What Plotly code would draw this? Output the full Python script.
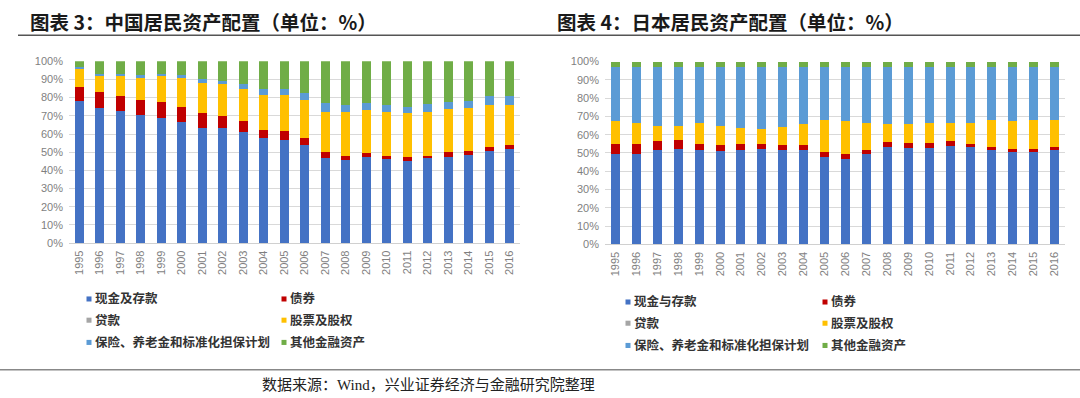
import plotly.graph_objects as go

W, H = 1080, 398

years = ["1995", "1996", "1997", "1998", "1999", "2000", "2001", "2002", "2003", "2004", "2005",
         "2006", "2007", "2008", "2009", "2010", "2011", "2012", "2013", "2014", "2015", "2016"]

# China household asset allocation (%)
cn_names = ["现金及存款", "债券", "贷款", "股票及股权", "保险、养老金和标准化担保计划", "其他金融资产"]
cn_cash = [78.0, 74.5, 72.8, 70.2, 69.0, 66.7, 63.5, 63.3, 61.1, 57.8, 56.9,
           54.0, 47.0, 45.7, 47.2, 46.1, 45.4, 46.7, 47.6, 48.5, 50.9, 51.9]
cn_bond = [8.0, 8.5, 8.3, 8.5, 8.7, 8.3, 7.8, 6.7, 6.3, 4.6, 4.6,
           3.7, 3.0, 2.4, 2.2, 2.0, 1.8, 1.4, 2.4, 1.9, 2.2, 2.2]
cn_loan = [0, 0, 0, 0, 0, 0, 0, 0, 0, 0, 0, 0, 0, 0, 0, 0, 0, 0, 0, 0, 0, 0]
cn_stock = [10.0, 8.7, 10.9, 12.0, 14.0, 15.7, 17.0, 17.6, 17.2, 19.1, 20.0,
            21.0, 22.2, 24.1, 23.7, 24.1, 24.1, 24.1, 23.5, 23.7, 22.8, 21.8]
cn_ins = [0.8, 1.1, 1.1, 1.5, 1.1, 1.5, 1.9, 1.8, 2.8, 3.1, 3.1,
          3.7, 4.7, 3.7, 3.8, 3.7, 3.7, 4.3, 4.3, 4.2, 5.2, 5.0]
cn_other = [3.2, 7.2, 6.9, 7.8, 7.2, 7.8, 9.8, 10.6, 12.6, 15.4, 15.4,
            17.6, 23.1, 24.1, 23.1, 24.1, 25.0, 23.5, 22.2, 21.7, 18.9, 19.1]

# Japan household asset allocation (%)
jp_names = ["现金与存款", "债券", "贷款", "股票及股权", "保险、养老金和标准化担保计划", "其他金融资产"]
jp_cash = [49.5, 49.5, 51.4, 52.3, 51.4, 51.0, 51.7, 52.3, 51.4, 51.4, 47.7,
           46.8, 49.2, 53.2, 52.8, 52.8, 53.8, 53.2, 51.4, 50.8, 50.8, 51.7]
jp_bond = [5.5, 5.2, 5.1, 4.6, 3.3, 3.5, 3.3, 2.7, 2.7, 2.7, 2.8,
           2.7, 2.7, 2.8, 2.8, 2.8, 2.5, 1.8, 1.8, 1.5, 1.5, 1.5]
jp_loan = [0, 0, 0, 0, 0, 0, 0, 0, 0, 0, 0, 0, 0, 0, 0, 0, 0, 0, 0, 0, 0, 0]
jp_stock = [12.3, 11.7, 8.1, 7.7, 11.7, 10.1, 8.9, 8.3, 10.1, 12.0, 17.4,
            18.0, 14.5, 9.7, 10.1, 10.8, 10.1, 11.4, 14.7, 15.2, 15.6, 14.7]
jp_ins = [29.6, 30.5, 32.3, 32.3, 30.5, 32.5, 33.0, 33.6, 32.7, 30.8, 29.0,
          29.4, 30.5, 31.2, 31.2, 30.5, 30.5, 30.5, 29.0, 29.4, 29.0, 29.0]
jp_other = [3.1, 3.1, 3.1, 3.1, 3.1, 2.9, 3.1, 3.1, 3.1, 3.1, 3.1,
            3.1, 3.1, 3.1, 3.1, 3.1, 3.1, 3.1, 3.1, 3.1, 3.1, 3.1]

colors = ["#4472C4", "#C00000", "#A5A5A5", "#FFC000", "#5B9BD5", "#70AD47"]

title_left = "图表 3：中国居民资产配置（单位：%）"
title_right = "图表 4：日本居民资产配置（单位：%）"
source_text = "数据来源：Wind，兴业证券经济与金融研究院整理"

y_ticks = [0, 10, 20, 30, 40, 50, 60, 70, 80, 90, 100]
y_tick_labels = ["0%", "10%", "20%", "30%", "40%", "50%", "60%", "70%", "80%", "90%", "100%"]


def px(x):
    return x / W


def py(y_img):
    # the captured picture maps page y to roughly 7 + 0.96*y; invert that
    y = (y_img - 7) / 0.96
    return 1 - y / H


fig = go.Figure()

cn_series = [cn_cash, cn_bond, cn_loan, cn_stock, cn_ins, cn_other]
jp_series = [jp_cash, jp_bond, jp_loan, jp_stock, jp_ins, jp_other]

for name, vals, col in zip(cn_names, cn_series, colors):
    fig.add_trace(go.Bar(x=years, y=vals, name=name, marker=dict(color=col, line=dict(width=0)),
                         xaxis="x", yaxis="y", showlegend=False))
for name, vals, col in zip(jp_names, jp_series, colors):
    fig.add_trace(go.Bar(x=years, y=vals, name=name, marker=dict(color=col, line=dict(width=0)),
                         xaxis="x2", yaxis="y2", showlegend=False))

tickfont = dict(family="Liberation Sans, Arial, sans-serif", size=11, color="#7F7F7F")

xcommon = dict(type="category", tickangle=-90, tickfont=tickfont, showgrid=False,
               showline=True, linecolor="#D0D0D0", linewidth=1, ticks="", ticklabelstandoff=2)
ycommon = dict(range=[0, 100], tickmode="array", tickvals=y_ticks, ticktext=y_tick_labels,
               tickfont=tickfont,
               showgrid=True, gridcolor="#D9D9D9", gridwidth=1, zeroline=False,
               showline=False, ticks="", ticklabelstandoff=5)

fig.update_layout(
    width=W, height=H,
    margin=dict(l=0, r=0, t=0, b=0),
    paper_bgcolor="white", plot_bgcolor="white",
    barmode="stack", bargap=0.57,
    showlegend=False,
    xaxis=dict(domain=[px(69), px(520)], anchor="y", **xcommon),
    yaxis=dict(domain=[py(241.7), py(61.7)], anchor="x", **ycommon),
    xaxis2=dict(domain=[px(605), px(1065)], anchor="y2", **xcommon),
    yaxis2=dict(domain=[py(243), py(62)], anchor="x2", **ycommon),
)

shapes = []
annotations = []

# Titles
title_font = dict(family="Noto Sans CJK SC", size=19.5, color="#1a1a1a", weight="bold")
annotations.append(dict(xref="paper", yref="paper", x=px(28), y=py(22), xanchor="left", yanchor="middle",
                        text=title_left, showarrow=False, font=title_font))
annotations.append(dict(xref="paper", yref="paper", x=px(555), y=py(22), xanchor="left", yanchor="middle",
                        text=title_right, showarrow=False, font=title_font))
# title underline
shapes.append(dict(type="line", xref="paper", yref="paper", x0=px(18), x1=px(1080), y0=py(36), y1=py(36),
                   line=dict(color="#555555", width=1.5)))
# source line
shapes.append(dict(type="line", xref="paper", yref="paper", x0=px(0), x1=px(1080), y0=py(367), y1=py(367),
                   line=dict(color="#888888", width=1.5)))
annotations.append(dict(xref="paper", yref="paper", x=px(260), y=py(382), xanchor="left", yanchor="middle",
                        text=source_text, showarrow=False,
                        font=dict(family="Liberation Serif, Noto Sans CJK SC", size=15, color="#222222")))

# Legends (2 columns x 3 rows each)
leg_font = dict(family="Noto Sans CJK SC", size=12.5, color="#333333", weight="bold")


def add_legend(names, col_x, row_y):
    for i, (name, col) in enumerate(zip(names, colors)):
        cx = col_x[i % 2]
        cy = row_y[i // 2]
        shapes.append(dict(type="rect", xref="paper", yref="paper",
                           x0=px(cx - 2.5), x1=px(cx + 2.5), y0=py(cy + 2.5), y1=py(cy - 2.5),
                           fillcolor=col, line=dict(width=0)))
        annotations.append(dict(xref="paper", yref="paper", x=px(cx + 4), y=py(cy - 1), xanchor="left",
                                yanchor="middle", text=name, showarrow=False, font=leg_font))


add_legend(cn_names, [89, 284], [297, 318, 340])
add_legend(jp_names, [628, 825], [300, 321, 343])

fig.update_layout(shapes=shapes, annotations=annotations)

fig.write_html("out.html", config={"displayModeBar": False},
               post_script="document.body.style.margin='0';document.body.style.overflow='hidden';")
